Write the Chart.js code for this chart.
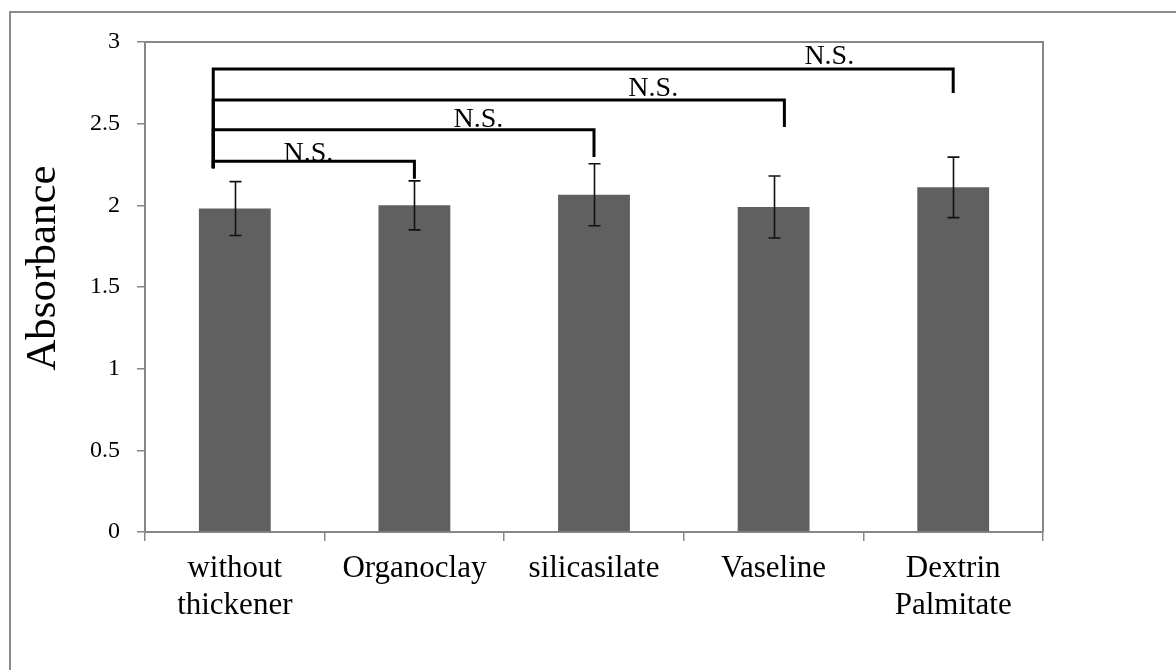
<!DOCTYPE html>
<html>
<head>
<meta charset="utf-8">
<script src="https://cdn.jsdelivr.net/npm/chart.js@4/dist/chart.umd.min.js"></script>
<style>
  html, body { margin: 0; padding: 0; background: #ffffff; }
  #wrap { width: 1176px; height: 670px; position: relative; }
</style>
</head>
<body>
<div id="wrap"><canvas id="chart" width="1176" height="670"></canvas></div>
<script>
// Thickener formulations and their absorbance (mean ± SD)
const categories = [["without", "thickener"], "Organoclay", "silicasilate", "Vaseline", ["Dextrin", "Palmitate"]];
const absorbance = [1.98, 2.00, 2.065, 1.99, 2.11];
const errors = [0.165, 0.15, 0.19, 0.19, 0.185];
const yTicks = [0, 0.5, 1, 1.5, 2, 2.5, 3];
const yTitle = 'Absorbance';

// Significance brackets: from / to (category index), bar level, leg ends (absorbance units)
const bracketFrom = [-0.12, -0.12, -0.12, -0.12];
const bracketTo = [1.0, 2.0, 3.06, 4.0];
const bracketLevel = [2.27, 2.462, 2.645, 2.835];
const bracketLeftEnd = [2.227, 2.227, 2.227, 2.227];
const bracketRightEnd = [2.162, 2.296, 2.48, 2.688];
const bracketText = ["N.S.", "N.S.", "N.S.", "N.S."];
const bracketTextX = [0.41, 1.356, 2.33, 3.31];
const bracketTextY = [2.27, 2.48, 2.67, 2.866];

const SERIF = "'Liberation Serif', 'Times New Roman', serif";
const AXIS_GREY = '#878787';

const framePlugin = {
  id: 'frame',
  beforeDraw(chart) {
    const ctx = chart.ctx;
    ctx.save();
    ctx.fillStyle = '#ffffff';
    ctx.fillRect(0, 0, chart.width, chart.height);
    ctx.strokeStyle = '#8c8c8c';
    ctx.lineWidth = 2;
    ctx.strokeRect(10, 12, chart.width + 20, chart.height + 20);
    ctx.restore();
  },
  afterDraw(chart) {
    const { left, right, top, bottom } = chart.chartArea;
    const ctx = chart.ctx;
    ctx.save();
    // top and right edges of the plot area
    ctx.strokeStyle = AXIS_GREY;
    ctx.lineWidth = 2;
    ctx.beginPath();
    ctx.moveTo(left, top);
    ctx.lineTo(right, top);
    ctx.lineTo(right, bottom);
    ctx.stroke();
    // vertical axis title, set a little above the axis middle
    ctx.fillStyle = '#000000';
    ctx.font = '43px ' + SERIF;
    ctx.textAlign = 'center';
    ctx.textBaseline = 'middle';
    ctx.translate(44, (top + bottom) / 2 - 19);
    ctx.rotate(-Math.PI / 2);
    ctx.fillText(yTitle, 0, 0);
    ctx.restore();
  }
};

const errorBarPlugin = {
  id: 'errorBars',
  afterDatasetsDraw(chart) {
    const x = chart.scales.x, y = chart.scales.y, ctx = chart.ctx;
    ctx.save();
    ctx.strokeStyle = '#111111';
    ctx.lineWidth = 1.6;
    absorbance.forEach((v, i) => {
      const px = Math.round(x.getPixelForValue(i)) + 0.5;
      const yt = y.getPixelForValue(v + errors[i]);
      const yb = y.getPixelForValue(v - errors[i]);
      ctx.beginPath();
      ctx.moveTo(px, yt); ctx.lineTo(px, yb);
      ctx.moveTo(px - 6, yt); ctx.lineTo(px + 6, yt);
      ctx.moveTo(px - 6, yb); ctx.lineTo(px + 6, yb);
      ctx.stroke();
    });
    ctx.restore();
  }
};

const bracketPlugin = {
  id: 'brackets',
  afterDraw(chart) {
    const x = chart.scales.x, y = chart.scales.y, ctx = chart.ctx;
    ctx.save();
    ctx.strokeStyle = '#000000';
    ctx.lineWidth = 3;
    ctx.lineJoin = 'miter';
    bracketLevel.forEach((lvl, i) => {
      const x0 = x.getPixelForValue(bracketFrom[i]);
      const x1 = x.getPixelForValue(bracketTo[i]);
      ctx.beginPath();
      ctx.moveTo(x0, y.getPixelForValue(bracketLeftEnd[i]));
      ctx.lineTo(x0, y.getPixelForValue(lvl));
      ctx.lineTo(x1, y.getPixelForValue(lvl));
      ctx.lineTo(x1, y.getPixelForValue(bracketRightEnd[i]));
      ctx.stroke();
    });
    ctx.fillStyle = '#000000';
    ctx.font = '28px ' + SERIF;
    ctx.textAlign = 'center';
    ctx.textBaseline = 'alphabetic';
    bracketText.forEach((t, i) => {
      ctx.fillText(t, x.getPixelForValue(bracketTextX[i]), y.getPixelForValue(bracketTextY[i]));
    });
    ctx.restore();
  }
};

new Chart(document.getElementById('chart'), {
  type: 'bar',
  data: {
    labels: categories,
    datasets: [{
      label: yTitle,
      data: absorbance,
      backgroundColor: '#606060',
      borderWidth: 0,
      categoryPercentage: 1.0,
      barPercentage: 0.4
    }]
  },
  options: {
    responsive: false,
    animation: false,
    devicePixelRatio: 1,
    layout: { padding: { left: 0, right: 133, top: 42, bottom: 0 } },
    plugins: {
      legend: { display: false },
      tooltip: { enabled: false }
    },
    scales: {
      x: {
        grid: {
          offset: true,
          drawOnChartArea: false,
          drawTicks: true,
          tickLength: 9,
          color: AXIS_GREY,
          lineWidth: 1.5
        },
        border: { color: AXIS_GREY, width: 2 },
        ticks: {
          color: '#000000',
          font: { family: SERIF, size: 31, lineHeight: 1.2 },
          padding: 9,
          maxRotation: 0,
          autoSkip: false
        },
        afterFit(scale) { scale.height = 138; }
      },
      y: {
        min: 0,
        max: 3,
        afterBuildTicks(scale) { scale.ticks = yTicks.map(v => ({ value: v })); },
        grid: {
          drawOnChartArea: false,
          drawTicks: true,
          tickLength: 8,
          color: AXIS_GREY,
          lineWidth: 1.5
        },
        border: { color: AXIS_GREY, width: 2 },
        ticks: {
          color: '#000000',
          font: { family: SERIF, size: 24 },
          padding: 17,
          callback: (value) => String(value)
        },
        afterFit(scale) { scale.width = 145; }
      }
    }
  },
  plugins: [framePlugin, errorBarPlugin, bracketPlugin]
});
</script>
</body>
</html>
